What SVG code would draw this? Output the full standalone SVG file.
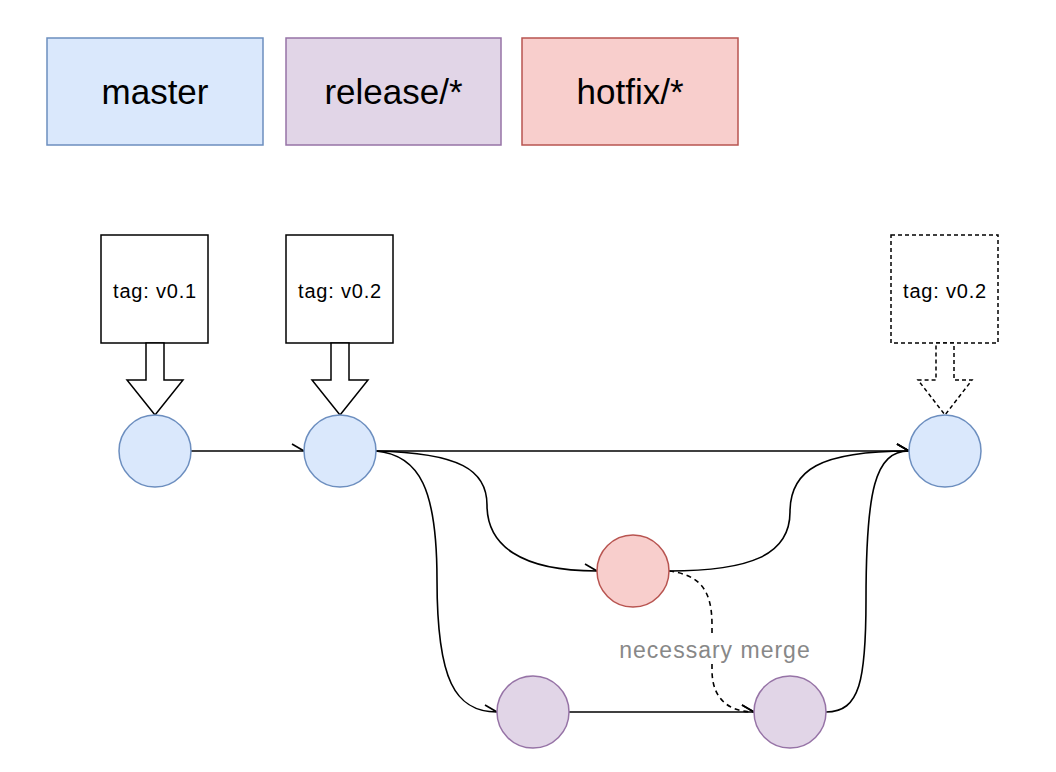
<svg xmlns="http://www.w3.org/2000/svg" width="1056" height="772" viewBox="0 0 1056 772">
  <style>
    .lbl { font-family: "Liberation Sans", Arial, sans-serif; fill: #000; text-anchor: middle; }
    .big { font-size: 35px; }
    .tag { font-size: 20px; letter-spacing: 0.8px; }
    .note { font-family: "Liberation Sans", Arial, sans-serif; font-size: 23px; letter-spacing: 1px; fill: #888888; text-anchor: middle; }
    .box { stroke-width: 1.5; }
    .tagbox { fill: #ffffff; stroke: #000; stroke-width: 1.5; }
    .dash { stroke-dasharray: 4 3; }
    .blk { fill: #ffffff; stroke: #000; stroke-width: 1.5; stroke-linejoin: miter; }
    .edge { fill: none; stroke: #000; stroke-width: 1.6; marker-end: url(#half); }
    .edge.dashed { stroke-dasharray: 5 4; }
    .m { fill: #dae8fc; stroke: #6c8ebf; stroke-width: 1.5; }
    .r { fill: #e1d5e7; stroke: #9673a6; stroke-width: 1.5; }
    .h { fill: #f8cecc; stroke: #b85450; stroke-width: 1.5; }
  </style>
  <defs>
    <marker id="half" markerUnits="userSpaceOnUse" markerWidth="16" markerHeight="12" viewBox="0 0 16 12" refX="14" refY="8" orient="auto" overflow="visible">
      <path d="M2,1 L14,8" fill="none" stroke="#000" stroke-width="1.6" stroke-dasharray="none"/>
    </marker>
  </defs>
  <rect width="1056" height="772" fill="#ffffff"/>

  <g id="legend-master">
    <rect class="box m" x="47" y="38" width="216" height="107"/>
    <text class="lbl big" x="155" y="104">master</text>
  </g>
  <g id="legend-release">
    <rect class="box r" x="286" y="38" width="215" height="107"/>
    <text class="lbl big" x="393.5" y="104">release/*</text>
  </g>
  <g id="legend-hotfix">
    <rect class="box h" x="522" y="38" width="216" height="107"/>
    <text class="lbl big" x="630" y="104">hotfix/*</text>
  </g>

  <g id="connectors">
    <path class="edge" d="M191,451 L304,451"/>
    <path class="edge" d="M376,451 L909,451"/>
    <path class="edge" d="M376,451 C460,453 487,470 487,505 C487,545 520,571 597,571"/>
    <path class="edge" d="M376,451 C420,455 437,490 437,580 C437,680 455,712 497,712"/>
    <path class="edge" d="M669,571 C750,571 790,555 790,512 C790,470 820,451 909,451"/>
    <path class="edge" d="M826,712 C860,712 866,680 866,600 C866,490 875,451 909,451"/>
    <path class="edge" d="M569,712 L754,712"/>
    <path class="edge dashed" d="M669,571 C700,575 712,590 712,625 L712,670 C712,700 730,712 754,712"/>
  </g>

  <g id="label-necessary-merge">
    <rect x="616" y="633" width="198" height="31" fill="#ffffff"/>
    <text class="note" x="715" y="658">necessary merge</text>
  </g>

  <g id="tag-v01">
    <rect class="tagbox" x="101" y="235" width="107" height="108"/>
    <text class="lbl tag" x="155" y="298">tag: v0.1</text>
    <polygon class="blk" points="146,343 164,343 164,380 183,380 155,415 127,380 146,380"/>
  </g>
  <g id="tag-v02">
    <rect class="tagbox" x="286" y="235" width="107" height="108"/>
    <text class="lbl tag" x="340" y="298">tag: v0.2</text>
    <polygon class="blk" points="331,343 349,343 349,380 368,380 340,415 312,380 331,380"/>
  </g>
  <g id="tag-v02-pending">
    <rect class="tagbox dash" x="891" y="235" width="107" height="108"/>
    <text class="lbl tag" x="945" y="298">tag: v0.2</text>
    <polygon class="blk dash" points="936,343 954,343 954,380 972,380 945,415 918,380 936,380"/>
  </g>

  <g id="commit-master-1"><circle class="m" cx="155" cy="451" r="36"/></g>
  <g id="commit-master-2"><circle class="m" cx="340" cy="451" r="36"/></g>
  <g id="commit-master-3"><circle class="m" cx="945" cy="451" r="36"/></g>
  <g id="commit-hotfix"><circle class="h" cx="633" cy="571" r="36"/></g>
  <g id="commit-release-1"><circle class="r" cx="533" cy="712" r="36"/></g>
  <g id="commit-release-2"><circle class="r" cx="790" cy="712" r="36"/></g>
</svg>
